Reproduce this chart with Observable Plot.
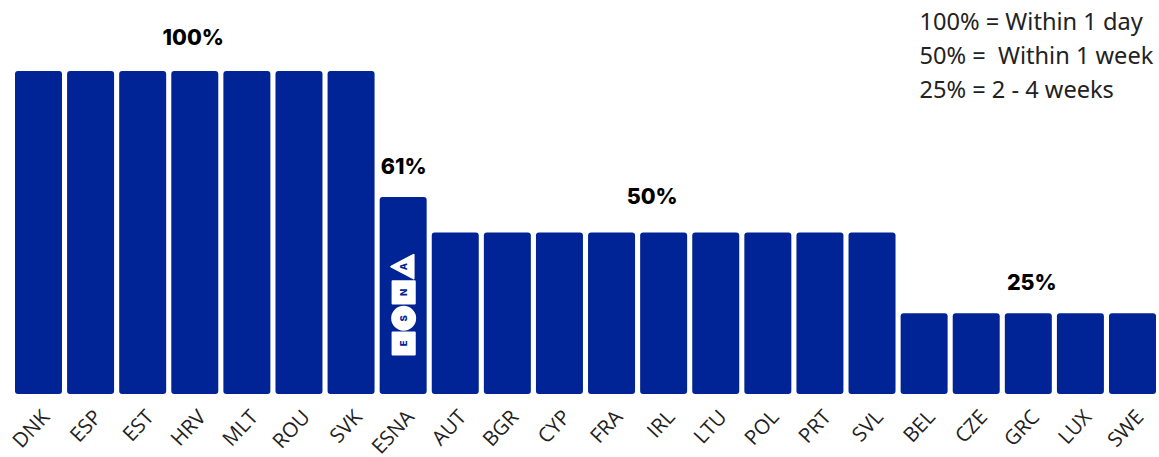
<!DOCTYPE html>
<html>
<head>
<meta charset="utf-8">
<script src="https://cdn.jsdelivr.net/npm/d3@7"></script>
<script src="https://cdn.jsdelivr.net/npm/@observablehq/plot@0.6"></script>
<style>
  html, body { margin: 0; padding: 0; background: #fff; }
  svg { display: block; }
</style>
</head>
<body>
<div id="chart"></div>
<script>
// Members and their response scores
const categories = ["DNK","ESP","EST","HRV","MLT","ROU","SVK","ESNA","AUT","BGR","CYP","FRA","IRL","LTU","POL","PRT","SVL","BEL","CZE","GRC","LUX","SWE"];
const scores = [100,100,100,100,100,100,100,61,50,50,50,50,50,50,50,50,50,25,25,25,25,25];
const legendLines = ["100% = Within 1 day", "50% =  Within 1 week", "25% = 2 - 4 weeks"];

// Badge stacked inside the ESNA bar, bottom to top
const badgeLetters = ["E","S","N","A"];
const badgeLevels = [15.8, 23.6, 31.6, 39.6];

const blue = "#002395";
const rows = categories.map((name, i) => ({name, score: scores[i]}));
const badge = badgeLetters.map((letter, i) => ({letter, level: badgeLevels[i]}));

const triangleLeft = {
  draw(context, size) {
    const s = Math.sqrt(size) * 0.56;
    context.moveTo(-s * 1.0, 0);
    context.lineTo(s * 0.8, -s * 0.95);
    context.lineTo(s * 0.8, s * 0.95);
    context.closePath();
  }
};

const valueLabel = (name, score, text, dx, dy) =>
  Plot.text([{name, score, text}], {
    x: "name", y: "score", text: "text", dx, dy,
    fontFamily: "Inter", fontWeight: 800, fontSize: 21.5, fill: "#000"
  });

const badgeShape = {x: () => "ESNA", y: "level", fill: "#fff", stroke: "#fff", strokeWidth: 2, strokeLinejoin: "round"};

const chart = Plot.plot({
  width: 1159,
  height: 457,
  marginLeft: 15,
  marginRight: 3,
  marginTop: 71,
  marginBottom: 63,
  style: {background: "#fff", overflow: "visible"},
  x: {domain: categories, paddingInner: 0.098, paddingOuter: 0, round: false, label: null},
  y: {domain: [0, 100], axis: null},
  marks: [
    Plot.barY(rows, {x: "name", y: "score", fill: blue, rx: 3}),
    Plot.axisX({
      tickSize: 0, tickRotate: -47, label: null, tickPadding: 13, dx: 7, dy: 6,
      fontFamily: "Open Sans", fontSize: 20.5, fill: "#222"
    }),
    valueLabel("HRV", 100, "100%", -2, -33.5),
    valueLabel("ESNA", 61, "61%", 0, -30),
    valueLabel("IRL", 50, "50%", -12, -36),
    valueLabel("GRC", 25, "25%", 3, -31),

    // ESNA badge
    Plot.dot(badge.filter(d => d.letter === "E" || d.letter === "N"), {
      ...badgeShape, symbol: "square", r: 12.5
    }),
    Plot.dot(badge.filter(d => d.letter === "S"), {
      ...badgeShape, symbol: "circle", r: 11.5
    }),
    Plot.dot(badge.filter(d => d.letter === "A"), {
      ...badgeShape, symbol: triangleLeft, r: 12.5
    }),
    Plot.text(badge, {
      x: () => "ESNA", y: "level", text: "letter", rotate: -90,
      fontFamily: "Inter", fontWeight: 800, fontSize: 9.5, fill: blue
    }),

    // Key to the percentages
    ...legendLines.map((line, i) => Plot.text([line], {
      text: d => d, frameAnchor: "top-left", textAnchor: "start",
      dx: 904, dy: -58 + i * 34,
      fontFamily: "Noto Sans", fontSize: 23.6, fill: "#222"
    }))
  ]
});
document.getElementById("chart").appendChild(chart);
</script>
</body>
</html>
